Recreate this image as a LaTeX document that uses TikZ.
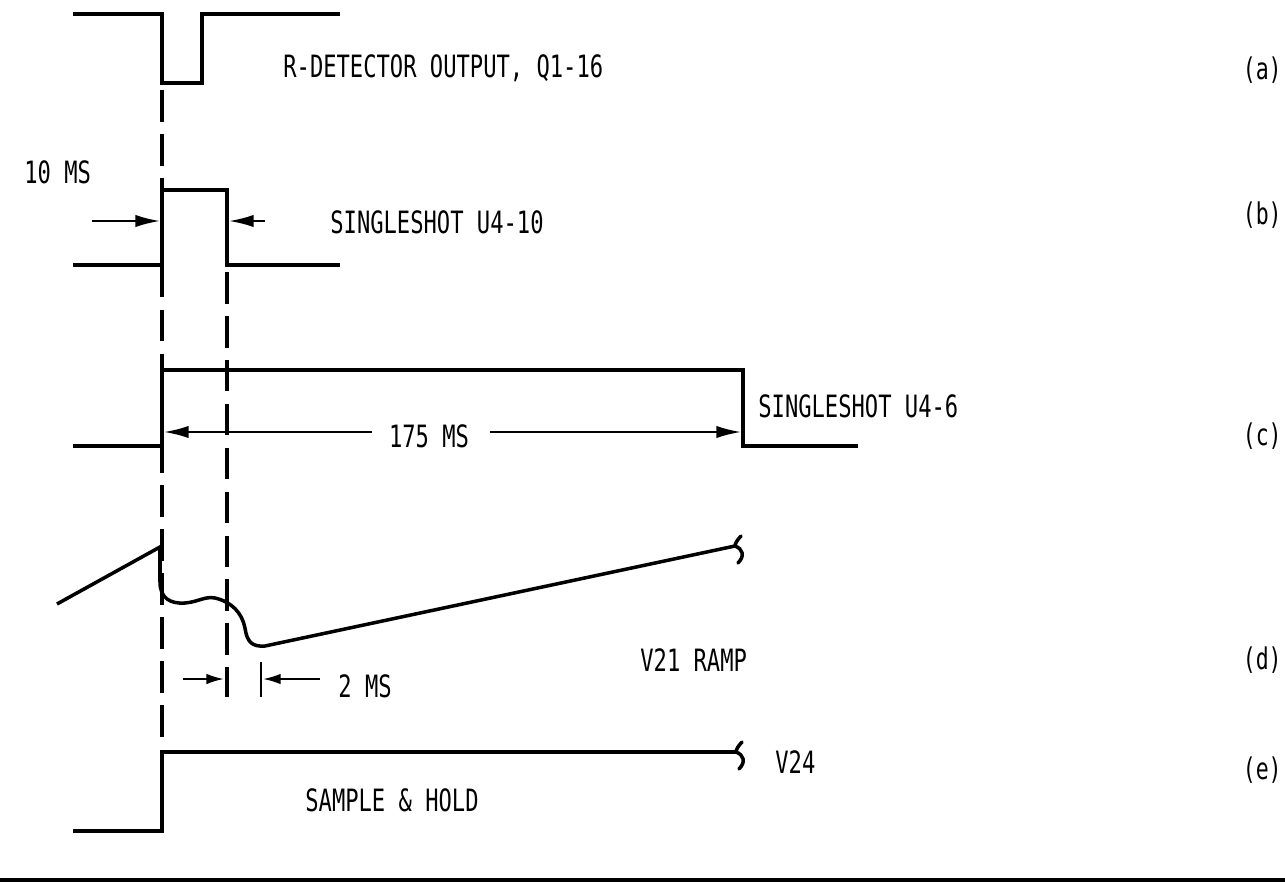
\documentclass[tikz,border=0pt]{standalone}
\usepackage{fontspec}
\newfontfamily\gothic[FakeStretch=0.72]{DejaVu Sans Mono}
\usetikzlibrary{arrows.meta, positioning, calc}
\tikzset{
  wave/.style={line width=2pt, line join=miter, line cap=butt},
  guide/.style={line width=1.8pt, dash pattern=on 18pt off 7pt},
  dimarrow/.style={-{Latex[length=14pt, width=7pt]}, line width=1.2pt},
  smallarrow/.style={-{Latex[length=10pt, width=6pt]}, line width=1.2pt},
  sig/.style={font=\gothic\fontsize{17.5}{18}\selectfont, anchor=west, inner sep=0pt},
  tag/.style={font=\gothic\fontsize{17}{18}\selectfont, anchor=east, inner sep=0pt},
  wavebreak/.pic={\draw[wave, line cap=round] (6,-10) .. controls (2,-6) and (0,-2) .. (0,0)
    .. controls (8,3) and (10,10) .. (3,17);}
}
\begin{document}
\begin{tikzpicture}[x=0.02cm, y=-0.02cm]
  \useasboundingbox (0,0) rectangle (1285,882);
  % (a) R-detector pulse
  \draw[wave] (73,14) -- (162,14) -- (162,83) -- (202,83) -- (202,14) -- (340,14);
  % (b) 10 ms singleshot
  \draw[wave] (73,265) -- (162,265) -- (162,190) -- (227,190) -- (227,265) -- (340,265);
  % (c) 175 ms singleshot
  \draw[wave] (73,446) -- (162,446) -- (162,370) -- (743,370) -- (743,446) -- (858,446);
  % (d) ramp
  \draw[wave] (57,604) -- (160,547) -- (160,582)
    .. controls (160,598) and (170,604) .. (185,603)
    .. controls (198,602) and (205,596) .. (215,598)
    .. controls (232,602) and (242,613) .. (245,628)
    .. controls (247,642) and (252,647) .. (265,646) -- (735,546);
  \pic at (735,546) {wavebreak};
  % (e) sample and hold
  \draw[wave] (73,831) -- (162,831) -- (162,752) -- (736,752);
  \pic at (736,752) {wavebreak};
  % timing guides
  \draw[guide] (162,90) -- (162,745);
  \draw[guide] (227,272) -- (227,697);
  \draw[line width=1.6pt] (261,662) -- (261,697);
  % dimensions
  \coordinate (tenL) at (92,221);
  \coordinate (tenR) at (265,221);
  \draw[dimarrow] (tenL) -- (160,221);
  \draw[dimarrow] (tenR) -- (229,221);
  \node[sig] (ten) at (24,172) {10 MS};
  \node[sig, anchor=center] (long) at (429,436) {175 MS};
  \draw[dimarrow] (372,432) -- (164,432);
  \draw[dimarrow] (490,432) -- (741,432);
  \draw[smallarrow] (183,679) -- (224,679);
  \draw[smallarrow] (320,679) -- (263,679);
  \node[sig] (two) at (338,686) {2 MS};
  % signal names
  \node[sig] (rdet) at (283,68) {R-DETECTOR OUTPUT, Q1-16};
  \node[sig] (ssb) at (330,222) {SINGLESHOT U4-10};
  \node[sig] (ssc) at (758,406) {SINGLESHOT U4-6};
  \node[sig] (ramp) at (640,660) {V21 RAMP};
  \node[sig] (vtf) at (775,762) {V24};
  \node[sig] (sh) at (305,800) {SAMPLE \& HOLD};
  % trace tags
  \foreach \t/\y in {a/70, b/215, c/436, d/660, e/770}
    \node[tag] (tag\t) at (1282,\y) {(\t)};
  % rule
  \draw[line width=1.8pt] (0,880) -- (1285,880);
\end{tikzpicture}
\end{document}
